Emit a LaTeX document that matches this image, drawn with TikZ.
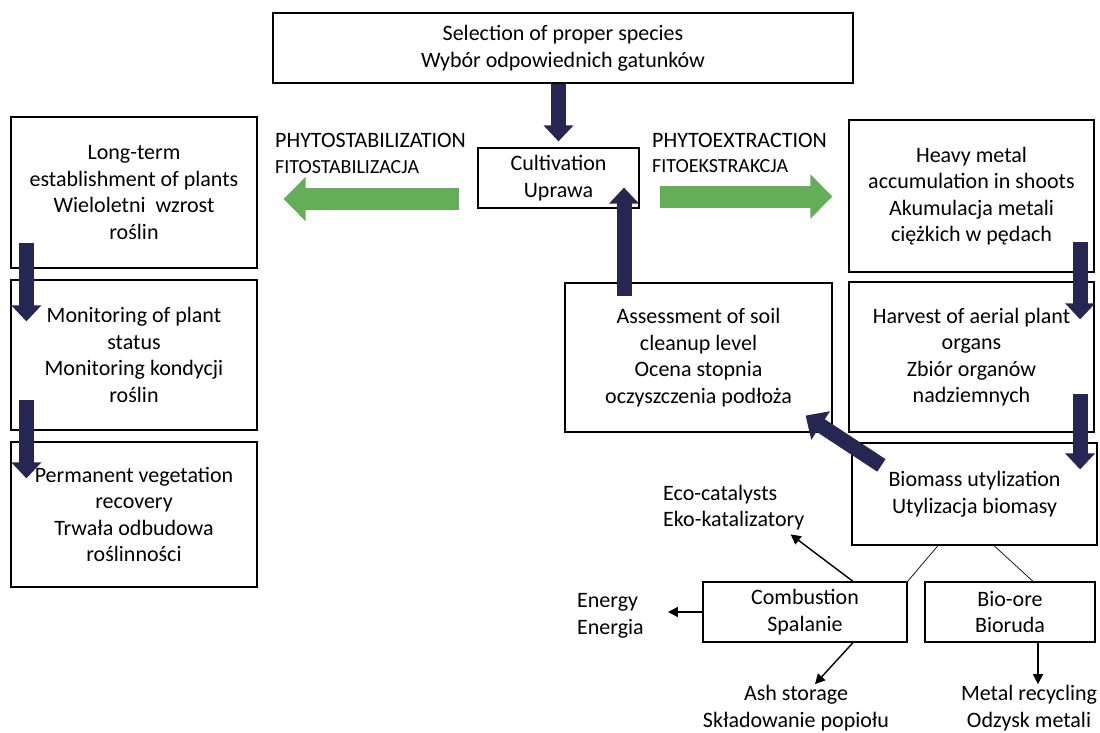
\documentclass[tikz,border=0pt]{standalone}
\usepackage{fontspec}
\setmainfont{Carlito}
\usetikzlibrary{arrows.meta,calc}
\definecolor{navy}{RGB}{37,38,82}
\definecolor{grn}{RGB}{100,174,88}
\newcommand\mainfs{\fontsize{22}{26.5}\selectfont}
\newcommand\smallfs{\fontsize{20}{23}\selectfont}
\begin{document}
\begin{tikzpicture}[x=1pt,y=-1pt,
  box/.style={draw,line width=1.2pt,fill=white,align=center,inner sep=0pt,font=\mainfs},
  txt/.style={inner sep=0pt,align=center,font=\mainfs},
  bigarrow/.style={draw=navy,line width=15pt,-{Triangle[width=29pt,length=16pt]},color=navy},
  greenarrow/.style={draw=grn,line width=22pt,-{Triangle[width=43pt,length=22pt]},color=grn},
  thinarrow/.style={line width=1.4pt,-{Triangle[width=10pt,length=10pt]}},
  thinline/.style={line width=0.7pt}]
\useasboundingbox[fill=white] (0,0) rectangle (1100,732);

% boxes
\node[box,minimum width=580pt,minimum height=70pt] (sel) at (563,48) {Selection of proper species\\Wybór odpowiednich gatunków};
\node[box,minimum width=161pt,minimum height=60pt] (cult) at (558.5,178) {Cultivation\\Uprawa};
\node[box,minimum width=246pt,minimum height=151pt] (l1) at (134,192.5) {Long-term\\establishment of plants\\Wieloletni\ \ wzrost\\roślin};
\node[box,minimum width=246pt,minimum height=150pt] (l2) at (134,355) {Monitoring of plant\\status\\Monitoring kondycji\\roślin};
\node[box,minimum width=246pt,minimum height=145pt] (l3) at (134,514.5) {Permanent vegetation\\recovery\\Trwała odbudowa\\roślinności};
\node[box,minimum width=245pt,minimum height=152pt] (r1) at (971.5,196) {Heavy metal\\accumulation in shoots\\Akumulacja metali\\ciężkich w pędach};
\node[box,minimum width=245pt,minimum height=150pt] (r2) at (971.5,357) {Harvest of aerial plant\\organs\\Zbiór organów\\nadziemnych};
\node[box,minimum width=245pt,minimum height=102pt] (bio) at (974.5,494) {Biomass utylization\\Utylizacja biomasy};
\node[box,minimum width=267pt,minimum height=149pt] (ass) at (698.5,357.5) {Assessment of soil\\cleanup level\\Ocena stopnia\\oczyszczenia podłoża};
\node[box,minimum width=204pt,minimum height=60pt] (comb) at (805,612) {Combustion\\Spalanie};
\node[box,minimum width=170pt,minimum height=60pt] (ore) at (1010,612) {Bio-ore\\Bioruda};

% free texts
\node[txt,anchor=west,align=left] (eco) at (663,507.5) {Eco-catalysts\\Eko-katalizatory};
\node[txt,anchor=west,align=left] (energy) at (577,616) {Energy\\Energia};
\node[txt] (ash) at (796,708) {Ash storage\\Składowanie popiołu};
\node[txt] (metal) at (1029,708) {Metal recycling\\Odzysk metali};

\node[inner sep=0pt,anchor=base west,font=\mainfs] (phs) at (275,147) {PHYTOSTABILIZATION};
\node[inner sep=0pt,anchor=base west,font=\smallfs] (fis) at (275,173) {FITOSTABILIZACJA};
\node[inner sep=0pt,anchor=base west,font=\mainfs] (phe) at (652,147) {PHYTOEXTRACTION};
\node[inner sep=0pt,anchor=base west,font=\smallfs] (fie) at (652,172) {FITOEKSTRAKCJA};

% thin connectors
\draw[thinline] ([xshift=-36.5pt]bio.south) -- (comb.north east);
\draw[thinline] ([xshift=19.5pt]bio.south) -- ([xshift=23pt]ore.north);
\draw[thinarrow] ([xshift=48pt]comb.north) -- ([xshift=-14pt,yshift=-4pt]eco.south east);
\draw[thinarrow] (comb.west) -- ($(comb.west -| energy.east)+(24,0)$);
\draw[thinarrow] ([xshift=48pt]comb.south) -- ($(ash.north)+(19,-1)$);
\coordinate (m1) at ([xshift=28pt]ore.south);
\draw[thinarrow] (m1) -- ($(m1 |- metal.north)+(0,-1)$);

% green arrows
\draw[greenarrow] ($(cult.west)+(-18,21)$) -- ($(cult.west -| l1.east)+(26,21)$);
\draw[greenarrow] ($(cult.east)+(20,18.5)$) -- ($(cult.east -| r1.west)+(-16,18.5)$);

% navy block arrows
\draw[bigarrow] (sel.south -| cult.north) -- ([yshift=6pt]cult.north);
\coordinate (u0) at ([xshift=-74.5pt,yshift=-14pt]ass.north);
\draw[bigarrow] (u0) -- ($(u0 |- cult.south)+(0,-21)$);
\draw[bigarrow] ($(l1.south west)+(16,-26)$) -- ($(l2.north west)+(16,42)$);
\draw[bigarrow] ($(l2.south west)+(16,-31)$) -- ($(l3.north west)+(16,37)$);
\draw[bigarrow] ($(r1.south east)+(-14.5,-31)$) -- ($(r2.north east)+(-14.5,38)$);
\draw[bigarrow] ($(r2.south east)+(-14.5,-39)$) -- ($(r2.south east |- bio.north)+(-14.5,27)$);
\draw[bigarrow,-{Triangle[width=33pt,length=18pt]}] ($(bio.north west)+(30,23)$) -- ($(ass.south east)+(-27,-17)$);
\end{tikzpicture}
\end{document}
